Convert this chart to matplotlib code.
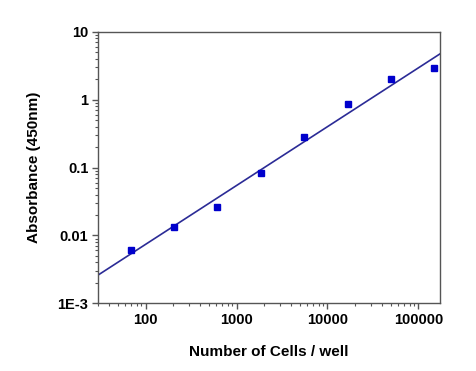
import numpy as np
import matplotlib.pyplot as plt
from matplotlib.ticker import FixedLocator, FixedFormatter, LogLocator, NullFormatter

# data (3-fold dilution series)
cells = [69, 206, 617, 1852, 5556, 16667, 50000, 150000]
absorbance = [0.0061, 0.0133, 0.026, 0.083, 0.28, 0.86, 2.0, 2.9]

x_ticks = [100, 1000, 10000, 100000]
x_tick_labels = ['100', '1000', '10000', '100000']
y_ticks = [0.001, 0.01, 0.1, 1, 10]
y_tick_labels = ['1E-3', '0.01', '0.1', '1', '10']

plt.rcParams['font.family'] = ['Liberation Sans', 'DejaVu Sans']
plt.rcParams['font.weight'] = 'bold'

fig = plt.figure(figsize=(4.77, 3.71), dpi=100)
ax = fig.add_axes([0.2055, 0.1825, 0.7165, 0.732])

# power fit (straight line in log-log)
slope, inter = np.polyfit(np.log10(cells), np.log10(absorbance), 1)
xfit = np.logspace(np.log10(30), np.log10(172000), 50)
ax.plot(xfit, 10 ** (inter + slope * np.log10(xfit)), color='#2b2b96', lw=1.2)
ax.plot(cells, absorbance, 's', color='#0000cc', ms=4.5, mec='#0000cc')

ax.set_xscale('log')
ax.set_yscale('log')
ax.set_xlim(30, 172000)
ax.set_ylim(0.001, 10)

ax.xaxis.set_major_locator(FixedLocator(x_ticks))
ax.xaxis.set_major_formatter(FixedFormatter(x_tick_labels))
ax.yaxis.set_major_locator(FixedLocator(y_ticks))
ax.yaxis.set_major_formatter(FixedFormatter(y_tick_labels))
ax.xaxis.set_minor_locator(LogLocator(base=10, subs=np.arange(2, 10)))
ax.yaxis.set_minor_locator(LogLocator(base=10, subs=np.arange(2, 10)))
ax.xaxis.set_minor_formatter(NullFormatter())
ax.yaxis.set_minor_formatter(NullFormatter())

for s in ax.spines.values():
    s.set_color('#555555')
    s.set_linewidth(1.0)
ax.tick_params(which='major', direction='out', length=4, width=1, color='#555555',
               labelsize=10.5, pad=3)
ax.tick_params(which='minor', direction='out', length=2, width=0.8, color='#555555')

ax.set_xlabel('Number of Cells / well', fontsize=11, fontweight='bold', labelpad=13)
ax.set_ylabel('Absorbance (450nm)', fontsize=11, fontweight='bold', labelpad=12)

fig.savefig('out.png', dpi=100)
